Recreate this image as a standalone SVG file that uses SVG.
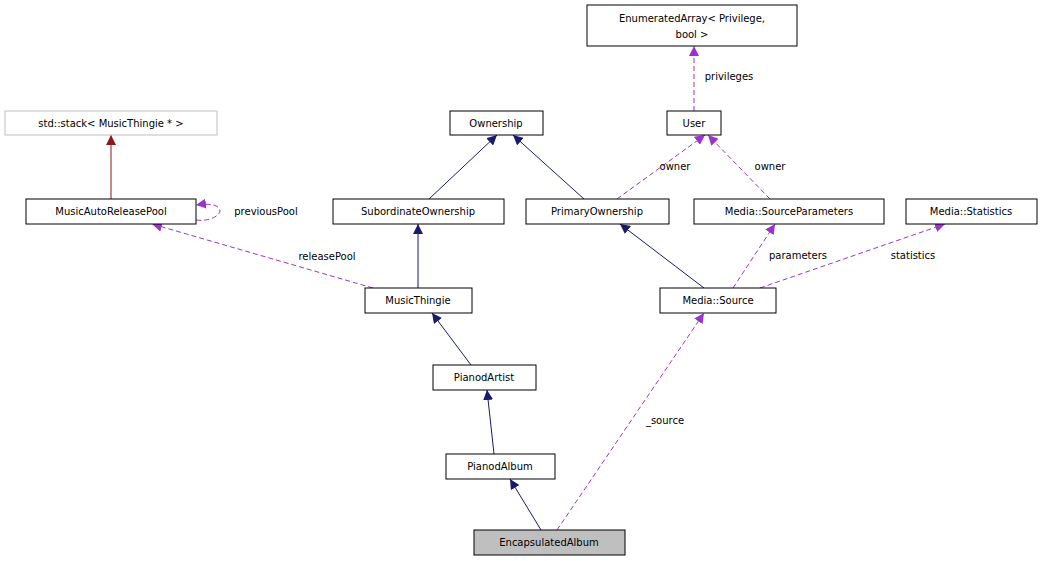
<svg xmlns="http://www.w3.org/2000/svg" width="1043" height="561" viewBox="0 0 1043 561">
<style>
.n rect{fill:#fff;stroke:#000;stroke-width:1}
text{font-family:"DejaVu Sans",sans-serif;font-size:10px;text-anchor:middle;fill:#000}
.h{stroke:#191970;fill:none;stroke-width:1}
.r{stroke:#8b1a1a;fill:none;stroke-width:1}
.d{stroke:#9a32cd;fill:none;stroke-width:1;stroke-dasharray:5,3}
</style>
<defs>
<marker id="an" viewBox="0 0 10 10" refX="10" refY="5" markerWidth="10" markerHeight="10" orient="auto" markerUnits="userSpaceOnUse"><path d="M0,0L10,5L0,10z" fill="#191970"/></marker>
<marker id="ar" viewBox="0 0 10 10" refX="10" refY="5" markerWidth="10" markerHeight="10" orient="auto" markerUnits="userSpaceOnUse"><path d="M0,0L10,5L0,10z" fill="#8b1a1a"/></marker>
<marker id="ap" viewBox="0 0 10 10" refX="10" refY="5" markerWidth="10" markerHeight="10" orient="auto" markerUnits="userSpaceOnUse"><path d="M0,0L10,5L0,10z" fill="#9a32cd"/></marker>
</defs>
<rect width="1043" height="561" fill="#fff"/>
<g id="edges">
<path class="h" d="M429,199L497,135" marker-end="url(#an)"/>
<path class="h" d="M584,199L513,135" marker-end="url(#an)"/>
<path class="h" d="M418,288L418,224" marker-end="url(#an)"/>
<path class="h" d="M704,288L620,224" marker-end="url(#an)"/>
<path class="h" d="M471,365L432,313" marker-end="url(#an)"/>
<path class="h" d="M494,454L487,390" marker-end="url(#an)"/>
<path class="h" d="M541,530L510,479" marker-end="url(#an)"/>
<path class="r" d="M111,199L111,135" marker-end="url(#ar)"/>
<path class="d" d="M557,530L704,313" marker-end="url(#ap)"/>
<text x="665" y="424">_source</text>
<path class="d" d="M373,288L152,224" marker-end="url(#ap)"/>
<text x="327" y="260">releasePool</text>
<path class="d" d="M196,220C210,222 220,215 220,211C220,205 210,203 196,205" marker-end="url(#ap)"/>
<text x="266" y="215">previousPool</text>
<path class="d" d="M617,199L705,135" marker-end="url(#ap)"/>
<text x="675" y="170">owner</text>
<path class="d" d="M770,199L708,135" marker-end="url(#ap)"/>
<text x="770" y="170">owner</text>
<path class="d" d="M733,288L775,224" marker-end="url(#ap)"/>
<text x="798" y="259">parameters</text>
<path class="d" d="M760,288L945,224" marker-end="url(#ap)"/>
<text x="913" y="259">statistics</text>
<path class="d" d="M694,111L694,46" marker-end="url(#ap)"/>
<text x="729" y="80">privileges</text>
</g>
<g id="enum" class="n"><rect x="587" y="5" width="210" height="41"/><text x="692" y="22">EnumeratedArray&lt; Privilege,</text><text x="692" y="38">bool &gt;</text></g>
<g id="stack"><rect x="5" y="111" width="212" height="24" fill="#fff" stroke="#bfbfbf"/><text x="111" y="127" fill="#404040">std::stack&lt; MusicThingie * &gt;</text></g>
<g id="ownership" class="n"><rect x="450" y="111" width="93" height="24"/><text x="496" y="127">Ownership</text></g>
<g id="user" class="n"><rect x="667" y="111" width="54" height="24"/><text x="694" y="127">User</text></g>
<g id="pool" class="n"><rect x="26" y="199" width="170" height="25"/><text x="111" y="215">MusicAutoReleasePool</text></g>
<g id="sub" class="n"><rect x="333" y="199" width="171" height="25"/><text x="418" y="215">SubordinateOwnership</text></g>
<g id="primary" class="n"><rect x="526" y="199" width="143" height="25"/><text x="597" y="215">PrimaryOwnership</text></g>
<g id="params" class="n"><rect x="694" y="199" width="190" height="25"/><text x="789" y="215">Media::SourceParameters</text></g>
<g id="stats" class="n"><rect x="906" y="199" width="131" height="25"/><text x="971" y="215">Media::Statistics</text></g>
<g id="thingie" class="n"><rect x="365" y="288" width="107" height="25"/><text x="418" y="304">MusicThingie</text></g>
<g id="source" class="n"><rect x="660" y="288" width="116" height="25"/><text x="718" y="304">Media::Source</text></g>
<g id="artist" class="n"><rect x="433" y="365" width="103" height="25"/><text x="484" y="381">PianodArtist</text></g>
<g id="album" class="n"><rect x="446" y="454" width="109" height="25"/><text x="500" y="470">PianodAlbum</text></g>
<g id="encap"><rect x="474" y="530" width="151" height="25" fill="#bfbfbf" stroke="#000"/><text x="549" y="546">EncapsulatedAlbum</text></g>
</svg>
